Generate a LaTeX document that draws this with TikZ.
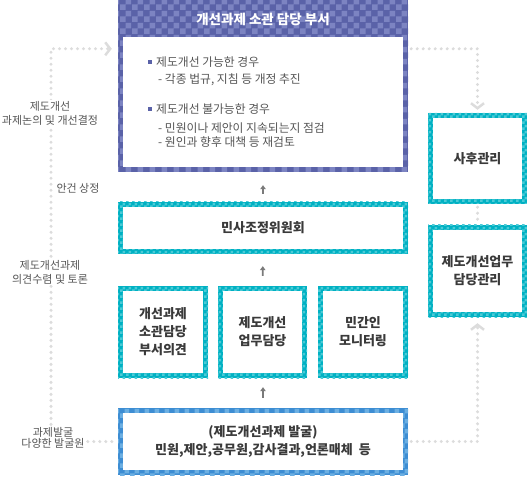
\documentclass[tikz,border=0pt]{standalone}
\usepackage{fontspec}
\setmainfont{Noto Sans CJK KR}
\usetikzlibrary{patterns,arrows.meta,calc}
\definecolor{topA}{HTML}{5A62A8}
\definecolor{topB}{HTML}{7C84C2}
\definecolor{tealA}{HTML}{00B1C3}
\definecolor{tealB}{HTML}{4CCAD6}
\definecolor{bluA}{HTML}{3D8DD3}
\definecolor{bluB}{HTML}{6CAFE2}
\definecolor{txtd}{HTML}{3A3A3A}
\definecolor{txtg}{HTML}{555555}
\definecolor{dotc}{HTML}{DCDCDC}
\definecolor{arrc}{HTML}{7A7A7A}
\pgfdeclarepatternformonly{chkA}{\pgfpointorigin}{\pgfqpoint{6pt}{6pt}}{\pgfqpoint{6pt}{6pt}}{%
 \pgfpathrectangle{\pgfpointorigin}{\pgfqpoint{3pt}{3pt}}%
 \pgfpathrectangle{\pgfqpoint{3pt}{3pt}}{\pgfqpoint{3pt}{3pt}}%
 \pgfusepath{fill}}
\pgfdeclarepatternformonly{chkB}{\pgfpointorigin}{\pgfqpoint{10pt}{10pt}}{\pgfqpoint{10pt}{10pt}}{%
 \pgfpathrectangle{\pgfpointorigin}{\pgfqpoint{5pt}{5pt}}%
 \pgfpathrectangle{\pgfqpoint{5pt}{5pt}}{\pgfqpoint{5pt}{5pt}}%
 \pgfusepath{fill}}
\pgfdeclarepatternformonly{chkC}{\pgfpointorigin}{\pgfqpoint{12pt}{12pt}}{\pgfqpoint{12pt}{12pt}}{%
 \pgfpathrectangle{\pgfpointorigin}{\pgfqpoint{6pt}{6pt}}%
 \pgfpathrectangle{\pgfqpoint{6pt}{6pt}}{\pgfqpoint{6pt}{6pt}}%
 \pgfusepath{fill}}
\tikzset{
  frm/.style n args={4}{draw=none, inner sep=0pt,
    preaction={fill=#1},
    pattern=#3, pattern color=#2,
    path picture={\fill[white] ([xshift=5pt,yshift=-#4]path picture bounding box.north west) rectangle ([xshift=-5pt,yshift=5pt]path picture bounding box.south east);}},
  lbl/.style={font=\fontsize{13}{18}\selectfont\bfseries, text=txtd, align=center},
  ttl/.style={font=\fontsize{13.5}{15}\selectfont\bfseries, text=white},
  itm/.style={font=\fontsize{11.8}{14}\selectfont, text=txtg, inner sep=0pt, anchor=west},
  blt/.style={fill=topA, minimum size=4pt, inner sep=0pt},
  side/.style={font=\fontsize{11}{14}\selectfont, text=txtg, align=center, inner sep=1pt},
  sidew/.style={side, fill=white},
  garrow/.style={draw=arrc, line width=1.8pt, -{Triangle[length=4pt,width=5.5pt]}},
  dots/.style={draw=dotc, line width=3.4pt, line cap=round, dash pattern=on 0pt off 6pt},
  chev/.tip={Straight Barb[length=5pt,width=13pt,line width=2.5pt]}
}
\begin{document}
\begin{tikzpicture}[x=1pt,y=-1pt]
\useasboundingbox (0,0) rectangle (527,478);
% main column
\node[frm={topA}{topB}{chkC}{37pt}, minimum width=290pt, minimum height=172pt] (top) at (263,86) {};
\node[ttl] (title) at (263,19) {개선과제 소관 담당 부서};
\node[blt] (b1) at (150,62) {};
\node[itm] (t1) at (156,62) {제도개선 가능한 경우};
\node[itm] (t2) at (158,80) {- 각종 법규, 지침 등 개정 추진};
\node[blt] (b2) at (150,109) {};
\node[itm] (t3) at (156,109) {제도개선 불가능한 경우};
\node[itm, align=left] (t4) at (158,135) {- 민원이나 제안이 지속되는지 점검\\- 원인과 향후 대책 등 재검토};

\node[frm={tealA}{tealB}{chkA}{5pt}, lbl, minimum width=290pt, minimum height=52pt] (minsa) at (263,228) {민사조정위원회};
\node[frm={tealA}{tealB}{chkA}{5pt}, lbl, minimum width=90pt, minimum height=92pt] (box1) at (163,332) {개선과제\\소관담당\\부서의견};
\node[frm={tealA}{tealB}{chkA}{5pt}, lbl, minimum width=89pt, minimum height=92pt] (box2) at (262.5,332) {제도개선\\업무담당};
\node[frm={tealA}{tealB}{chkA}{5pt}, lbl, minimum width=90pt, minimum height=92pt] (box3) at (363,332) {민간인\\모니터링};
\node[frm={bluA}{bluB}{chkB}{5pt}, lbl, minimum width=290pt, minimum height=67pt] (bottom) at (263,441.5) {(제도개선과제 발굴)\\민원,제안,공무원,감사결과,언론매체~~등};

% right column
\node[frm={tealA}{tealB}{chkA}{5pt}, lbl, minimum width=99pt, minimum height=91pt] (sahu) at (477.5,158.5) {사후관리};
\node[frm={tealA}{tealB}{chkA}{5pt}, lbl, minimum width=99pt, minimum height=92pt] (jedo) at (477.5,271) {제도개선업무\\담당관리};

% small arrows
\draw[garrow, shorten <=8pt, shorten >=13pt] (minsa.north) -- (top.south);
\draw[garrow, shorten <=10pt, shorten >=12pt] (box2.north) -- (minsa.south);
\draw[garrow, shorten <=10pt, shorten >=9pt] (bottom.north) -- (bottom.north |- box2.south);

% dotted connectors
\coordinate (tr) at ($(top.north east)+(0,49)$);
\coordinate (tl) at ($(top.north west)+(0,49)$);
\coordinate (lx) at (51,0);
\draw[dots, -chev, shorten <=3pt, shorten >=3pt] (tr) -| (sahu.north);
\draw[dots, shorten <=3pt, shorten >=3pt] (sahu.south) -- (jedo.north);
\draw[dots, -chev, shorten <=3pt, shorten >=6pt] (bottom.east) -| (jedo.south);
\draw[dots, -chev, shorten <=6pt, shorten >=6pt] (bottom.west) -| (lx |- tl) -- (tl);

% side labels
\node[sidew] (s1) at (50,113) {제도개선\\과제논의 및 개선결정};
\node[side] (s2) at (78,188) {안건 상정};
\node[sidew] (s3) at (50,272) {제도개선과제\\의견수렴 및 토론};
\node[sidew, font=\fontsize{11}{11}\selectfont] (s4) at (53,438) {과제발굴\\다양한 발굴원};
\end{tikzpicture}
\end{document}
